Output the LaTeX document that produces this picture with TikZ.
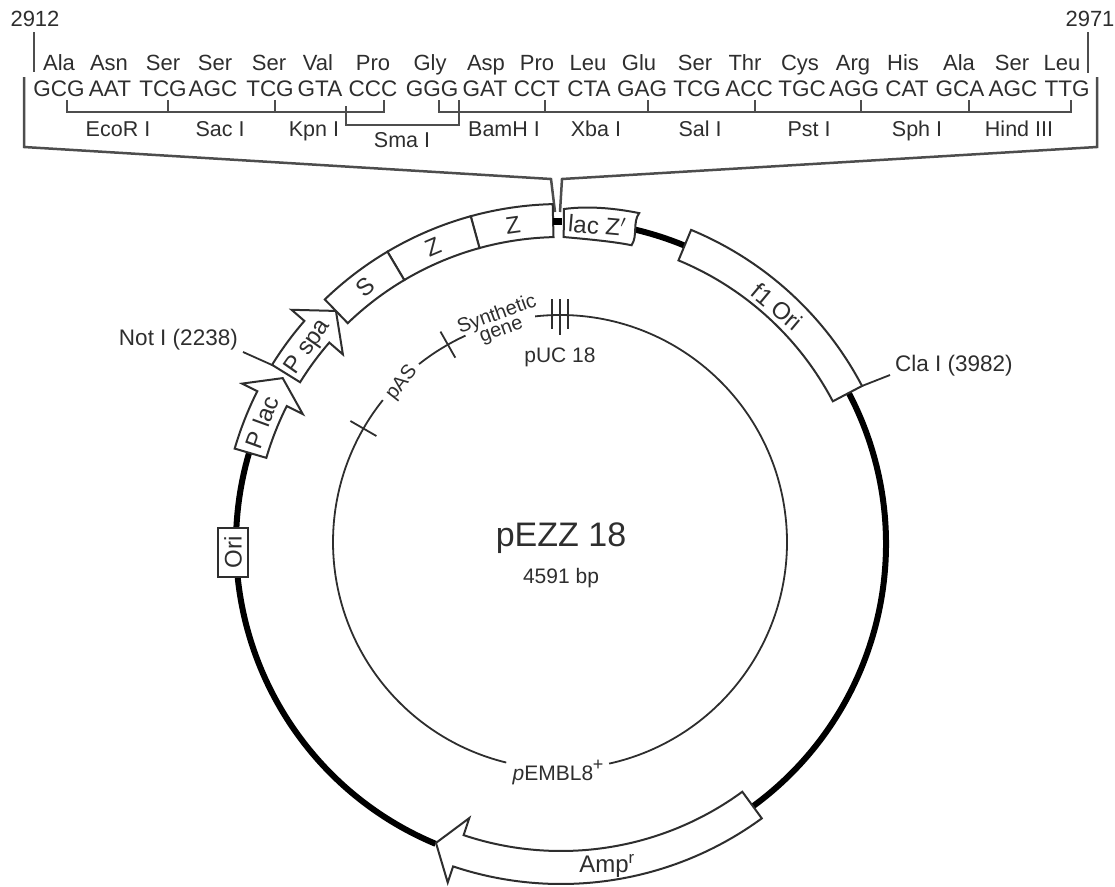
\documentclass[tikz,border=0pt]{standalone}
\usepackage{fontspec}
\usetikzlibrary{calc}
\setmainfont{Liberation Sans}
\definecolor{ink}{gray}{0.18}
\tikzset{
  seqtext/.style={font=\fontsize{21}{23}\selectfont,text=ink,inner sep=0pt},
  codontext/.style={font=\fontsize{22.5}{24}\selectfont,text=ink,inner sep=0pt,anchor=base},
  aatext/.style={font=\fontsize{22}{24}\selectfont,text=ink,inner sep=0pt,anchor=base},
  sitetext/.style={font=\fontsize{21.5}{24}\selectfont,text=ink,inner sep=0pt,anchor=base},
  smalltext/.style={font=\fontsize{20}{21}\selectfont,text=ink,inner sep=0pt},
  bartext/.style={font=\fontsize{24}{26}\selectfont,text=ink,inner sep=0pt},
  bar/.style={draw=ink,line width=2pt,fill=white,line join=miter},
  thinline/.style={draw=ink,line width=1.8pt},
  brk/.style={draw=ink!85,line width=2.5pt},
  thick ring/.style={draw=black,line width=6pt},
}
\newcommand{\ringbar}[2]{%
  \draw[bar] (#1:340) arc[start angle=#1,end angle=#2,radius=340] -- (#2:307) arc[start angle=#2,end angle=#1,radius=307] -- cycle;}
\newcommand{\ringarrow}[3]{%
  \draw[bar] (#1:340) arc[start angle=#1,end angle=#2,radius=340] -- (#2:357) -- (#3:324) -- (#2:289) -- (#2:307) arc[start angle=#2,end angle=#1,radius=307] -- cycle;}
\begin{document}
\begin{tikzpicture}[x=1pt,y=1pt]
\useasboundingbox (0,0) rectangle (1115,-886);
% sequence header
\node[aatext] (n2912) at (35,-27) {2912};
\node[aatext] (n2971) at (1090,-27) {2971};
\foreach \x/\t [count=\i] in {59/Ala,109/Asn,163/Ser,215/Ser,269/Ser,318/Val,373/Pro,430/Gly,486/Asp,537/Pro,588/Leu,639/Glu,695/Ser,745/Thr,800/Cys,853/Arg,903/His,959/Ala,1012/Ser,1062/Leu}
  \node[aatext] (aa\i) at (\x,-70) {\t};
\foreach \x/\t [count=\i] in {59/GCG,110/AAT,163/TCG,213/AGC,270/TCG,320/GTA,373/CCC,432/GGG,485/GAT,537/CCT,589/CTA,642/GAG,697/TCG,749/ACC,802/TGC,854/AGG,907/CAT,960/GCA,1013/AGC,1067/TTG}
  \node[codontext] (cod\i) at (\x,-96) {\t};
\foreach \x/\t/\y [count=\i] in {118/EcoR I/136,220/Sac I/136,314/Kpn I/136,402/Sma I/147,504/BamH I/136,596/Xba I/136,700/Sal I/136,809/Pst I/136,917/Sph I/136,1019/Hind III/136}
  \node[sitetext] (site\i) at (\x,-\y) {\t};
% position lines
\coordinate (l2912) at (34,-72);
\coordinate (l2971) at (1088,-73);
\draw[brk] (34,-32) -- (l2912);
\draw[brk] (1088,-32) -- (l2971);
% restriction brackets
\coordinate (bL1) at (67,-112); \coordinate (bL2) at (384,-112);
\coordinate (bR1) at (439,-112); \coordinate (bR2) at (1071,-112);
\draw[brk] (67,-100) -- (bL1) -- (bL2) -- (384,-100);
\draw[brk] (439,-100) -- (bR1) -- (bR2) -- (1071,-100);
\foreach \x in {168,275} \draw[brk] (\x,-100) -- (\x,-112);
\foreach \x in {545,648,755,861,969} \draw[brk] (\x,-100) -- (\x,-112);
\draw[brk] (346,-106) -- (346,-125) -- (459,-125) -- (459,-100);
% expansion lines
\draw[brk] (24,-77) -- (24,-147) -- (551,-179) -- (555,-212);
\draw[brk] (1097,-77) -- (1097,-147) -- (562,-179) -- (560,-212);
\begin{scope}[shift={(561,-544)}]
  \coordinate (ringtop) at (90:323);
  % thick backbone
  \draw[thick ring] (76.7:323) arc[start angle=76.7,end angle=67.5,radius=323];
  \draw[thick ring] (27.7:325) arc[start angle=27.7,end angle=-54,radius=325];
  \draw[thick ring] (-112.7:325) arc[start angle=247.3,end angle=163.7,radius=325];
  % features
  \ringarrow{-53.8}{-108.5}{-112.7}
  \ringbar{67.5}{27.7}
  % lac Z' with a wavy end
  \draw[bar] (89.5:335) .. controls (85:340) and (80:340) .. (76.7:340)
     .. controls (77.5:330) and (76:318) .. (76.7:307)
     .. controls (80:307) and (85:306) .. (89.5:307) -- cycle;
  \ringarrow{163.7}{153.3}{149.2}
  \ringarrow{148.2}{139}{134}
  \ringbar{91.4}{105.4}
  \ringbar{105.4}{120.7}
  \ringbar{120.7}{134}
  \fill[black] ($(ringtop)+(-8,3)$) rectangle ($(ringtop)+(1,-4)$);
  % labels on the ring
  \node[bartext,rotate=-40] (f1) at (216,237) {f1 Ori};
  \node[bartext,rotate=-5] (lacz) at (36,319) {lac Z$'$};
  \node[bartext,rotate=8] (z2) at (-48,319) {Z};
  \node[bartext,rotate=23] (z1) at (-128,297) {Z};
  \node[bartext,rotate=40] (s) at (-196,257) {S};
  \node[bartext,rotate=55] (pspa) at (-253,197) {P spa};
  \node[bartext,rotate=70] (plac) at (-299,122) {P lac};
  \node[bartext] (amp) at (46,-322) {Amp$^{\mathrm{r}}$};
  \node[bar,bartext,rotate=90,minimum width=49pt,minimum height=30pt,inner sep=0pt] (ori) at (-328,-8) {Ori};
  % site callouts
  \coordinate (notpt) at (148.2:339);
  \coordinate (clapt) at (27.7:340);
\end{scope}
\node[codontext,anchor=east] (notlabel) at (238,-340) {Not I (2238)};
\node[codontext,anchor=west] (clalabel) at (895,-366) {Cla I (3982)};
\draw[thinline] (243,-352) -- (notpt);
\draw[thinline] (clapt) -- (890,-375);
% inner map
\begin{scope}[shift={(560,-542)}]
  \draw[thinline] (96.3:227) arc[start angle=96.3,end angle=-77.5,radius=227];
  \draw[thinline] (114.6:227) arc[start angle=114.6,end angle=128.4,radius=227];
  \draw[thinline] (141.3:227) arc[start angle=141.3,end angle=256.3,radius=227];
  \coordinate (t1) at (92:227); \coordinate (t2) at (90:227); \coordinate (t3) at (88:227);
  \draw[thinline] (t1)+(0,16) -- +(0,-14);
  \draw[thinline] (t2)+(0,16) -- +(0,-20);
  \draw[thinline] (t3)+(0,16) -- +(0,-14);
  \draw[thinline] (119.6:212) -- (119.6:242);
  \draw[thinline] (150:212) -- (150:242);
\end{scope}
\node[smalltext,rotate=20] (syn) at (497,-315) {Synthetic};
\node[smalltext,rotate=20] (gene) at (502,-332) {gene};
\node[smalltext,rotate=52] (pas) at (402,-383) {pAS};
\node[seqtext] (puc) at (560,-357) {pUC 18};
\node[seqtext] (pembl) at (553,-775) {\textit{p}EMBL8};
\node[seqtext,font=\fontsize{18}{18}\selectfont] (plus) at (598,-765) {+};
\node[text=ink,font=\fontsize{34}{36}\selectfont,inner sep=0pt] (title) at (561,-538) {pEZZ 18};
\node[seqtext] (bp) at (561,-578) {4591 bp};
\end{tikzpicture}
\end{document}
